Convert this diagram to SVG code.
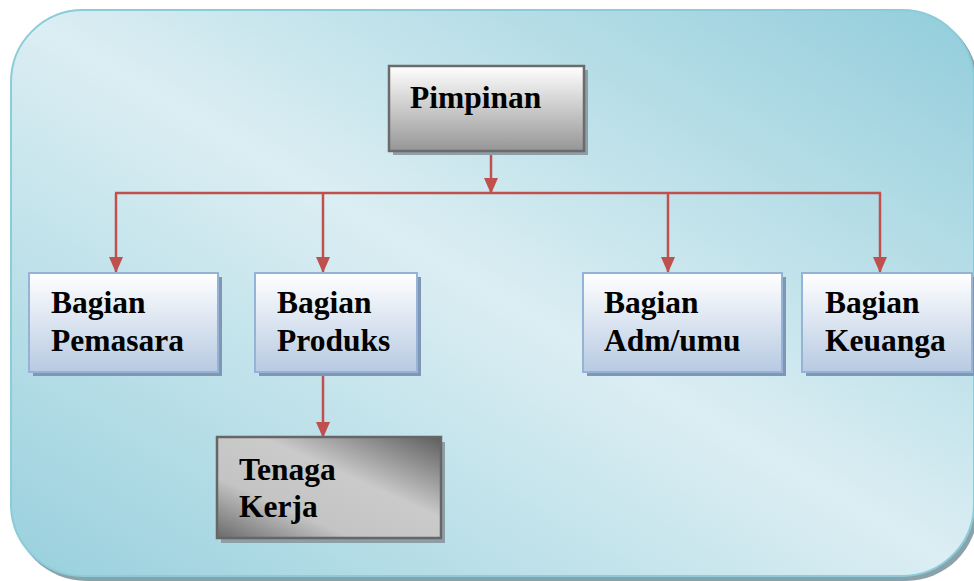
<svg xmlns="http://www.w3.org/2000/svg" width="974" height="581" viewBox="0 0 974 581">
<defs>
<linearGradient id="bg" x1="0" y1="1" x2="1" y2="0">
<stop offset="0" stop-color="#98d0dd"/>
<stop offset="0.5" stop-color="#dbeef3"/>
<stop offset="1" stop-color="#92cddb"/>
</linearGradient>
<linearGradient id="gray" x1="0" y1="0" x2="0" y2="1">
<stop offset="0" stop-color="#ffffff"/>
<stop offset="1" stop-color="#969696"/>
</linearGradient>
<linearGradient id="blue" x1="0" y1="0" x2="0" y2="1">
<stop offset="0" stop-color="#ffffff"/>
<stop offset="1" stop-color="#b7cae2"/>
</linearGradient>
<linearGradient id="tk" x1="0" y1="1" x2="1" y2="0">
<stop offset="0" stop-color="#6a6a6a"/>
<stop offset="0.3" stop-color="#c4c4c4"/>
<stop offset="0.6" stop-color="#cacaca"/>
<stop offset="1" stop-color="#5e5e5e"/>
</linearGradient>
<marker id="arr" markerWidth="16" markerHeight="16" refX="15" refY="8" orient="auto" markerUnits="userSpaceOnUse" viewBox="0 0 16 16">
<path d="M0,1 L16,8 L0,15 Z" fill="#c0504d"/>
</marker>
</defs>
<style>
.t{font-family:"Liberation Serif","Times New Roman","Tinos",serif;font-weight:bold;font-size:31.5px;fill:#000}
.bb{fill:url(#blue);stroke:#95b3d7;stroke-width:2}
.bs{fill:#7f97b4}
.gs{fill:#8e9ea6}
.c{stroke:#c0504d;stroke-width:2.5;fill:none}
</style>
<g id="panel">
<rect x="14" y="13" width="964" height="568" rx="72" fill="#8aa3aa"/>
<rect x="11" y="10" width="963" height="566" rx="72" fill="url(#bg)" stroke="#8ccbd9" stroke-width="2"/>
</g>
<g id="connectors">
<line class="c" x1="491" y1="151" x2="491" y2="193" marker-end="url(#arr)"/>
<line class="c" x1="115" y1="193" x2="881" y2="193"/>
<line class="c" x1="116" y1="193" x2="116" y2="272" marker-end="url(#arr)"/>
<line class="c" x1="323" y1="193" x2="323" y2="272" marker-end="url(#arr)"/>
<line class="c" x1="668" y1="193" x2="668" y2="272" marker-end="url(#arr)"/>
<line class="c" x1="880" y1="193" x2="880" y2="272" marker-end="url(#arr)"/>
<line class="c" x1="323" y1="373" x2="323" y2="437" marker-end="url(#arr)"/>
</g>
<g id="pimpinan">
<rect x="393" y="70" width="195" height="85" class="gs"/>
<rect x="389" y="66" width="195" height="85" fill="url(#gray)" stroke="#6b6b6b" stroke-width="2.5"/>
<text class="t" x="410" y="108">Pimpinan</text>
</g>
<g id="pemasaran">
<rect x="33" y="277" width="189" height="99" class="bs"/>
<rect x="29" y="273" width="189" height="99" class="bb"/>
<text class="t" x="51" y="313">Bagian</text>
<text class="t" x="51" y="351">Pemasara</text>
</g>
<g id="produksi">
<rect x="259" y="277" width="162" height="99" class="bs"/>
<rect x="255" y="273" width="162" height="99" class="bb"/>
<text class="t" x="277" y="313">Bagian</text>
<text class="t" x="277" y="351">Produks</text>
</g>
<g id="admumum">
<rect x="587" y="277" width="199" height="99" class="bs"/>
<rect x="583" y="273" width="199" height="99" class="bb"/>
<text class="t" x="604" y="313">Bagian</text>
<text class="t" x="604" y="351">Adm/umu</text>
</g>
<g id="keuangan">
<rect x="806" y="277" width="170" height="99" class="bs"/>
<rect x="802" y="273" width="170" height="99" class="bb"/>
<text class="t" x="825" y="313">Bagian</text>
<text class="t" x="825" y="351">Keuanga</text>
</g>
<g id="tenagakerja">
<rect x="221" y="442" width="224" height="101" class="gs"/>
<rect x="217" y="437" width="224" height="101" fill="url(#tk)" stroke="#666666" stroke-width="2.5"/>
<text class="t" x="239" y="480">Tenaga</text>
<text class="t" x="239" y="517">Kerja</text>
</g>
</svg>
